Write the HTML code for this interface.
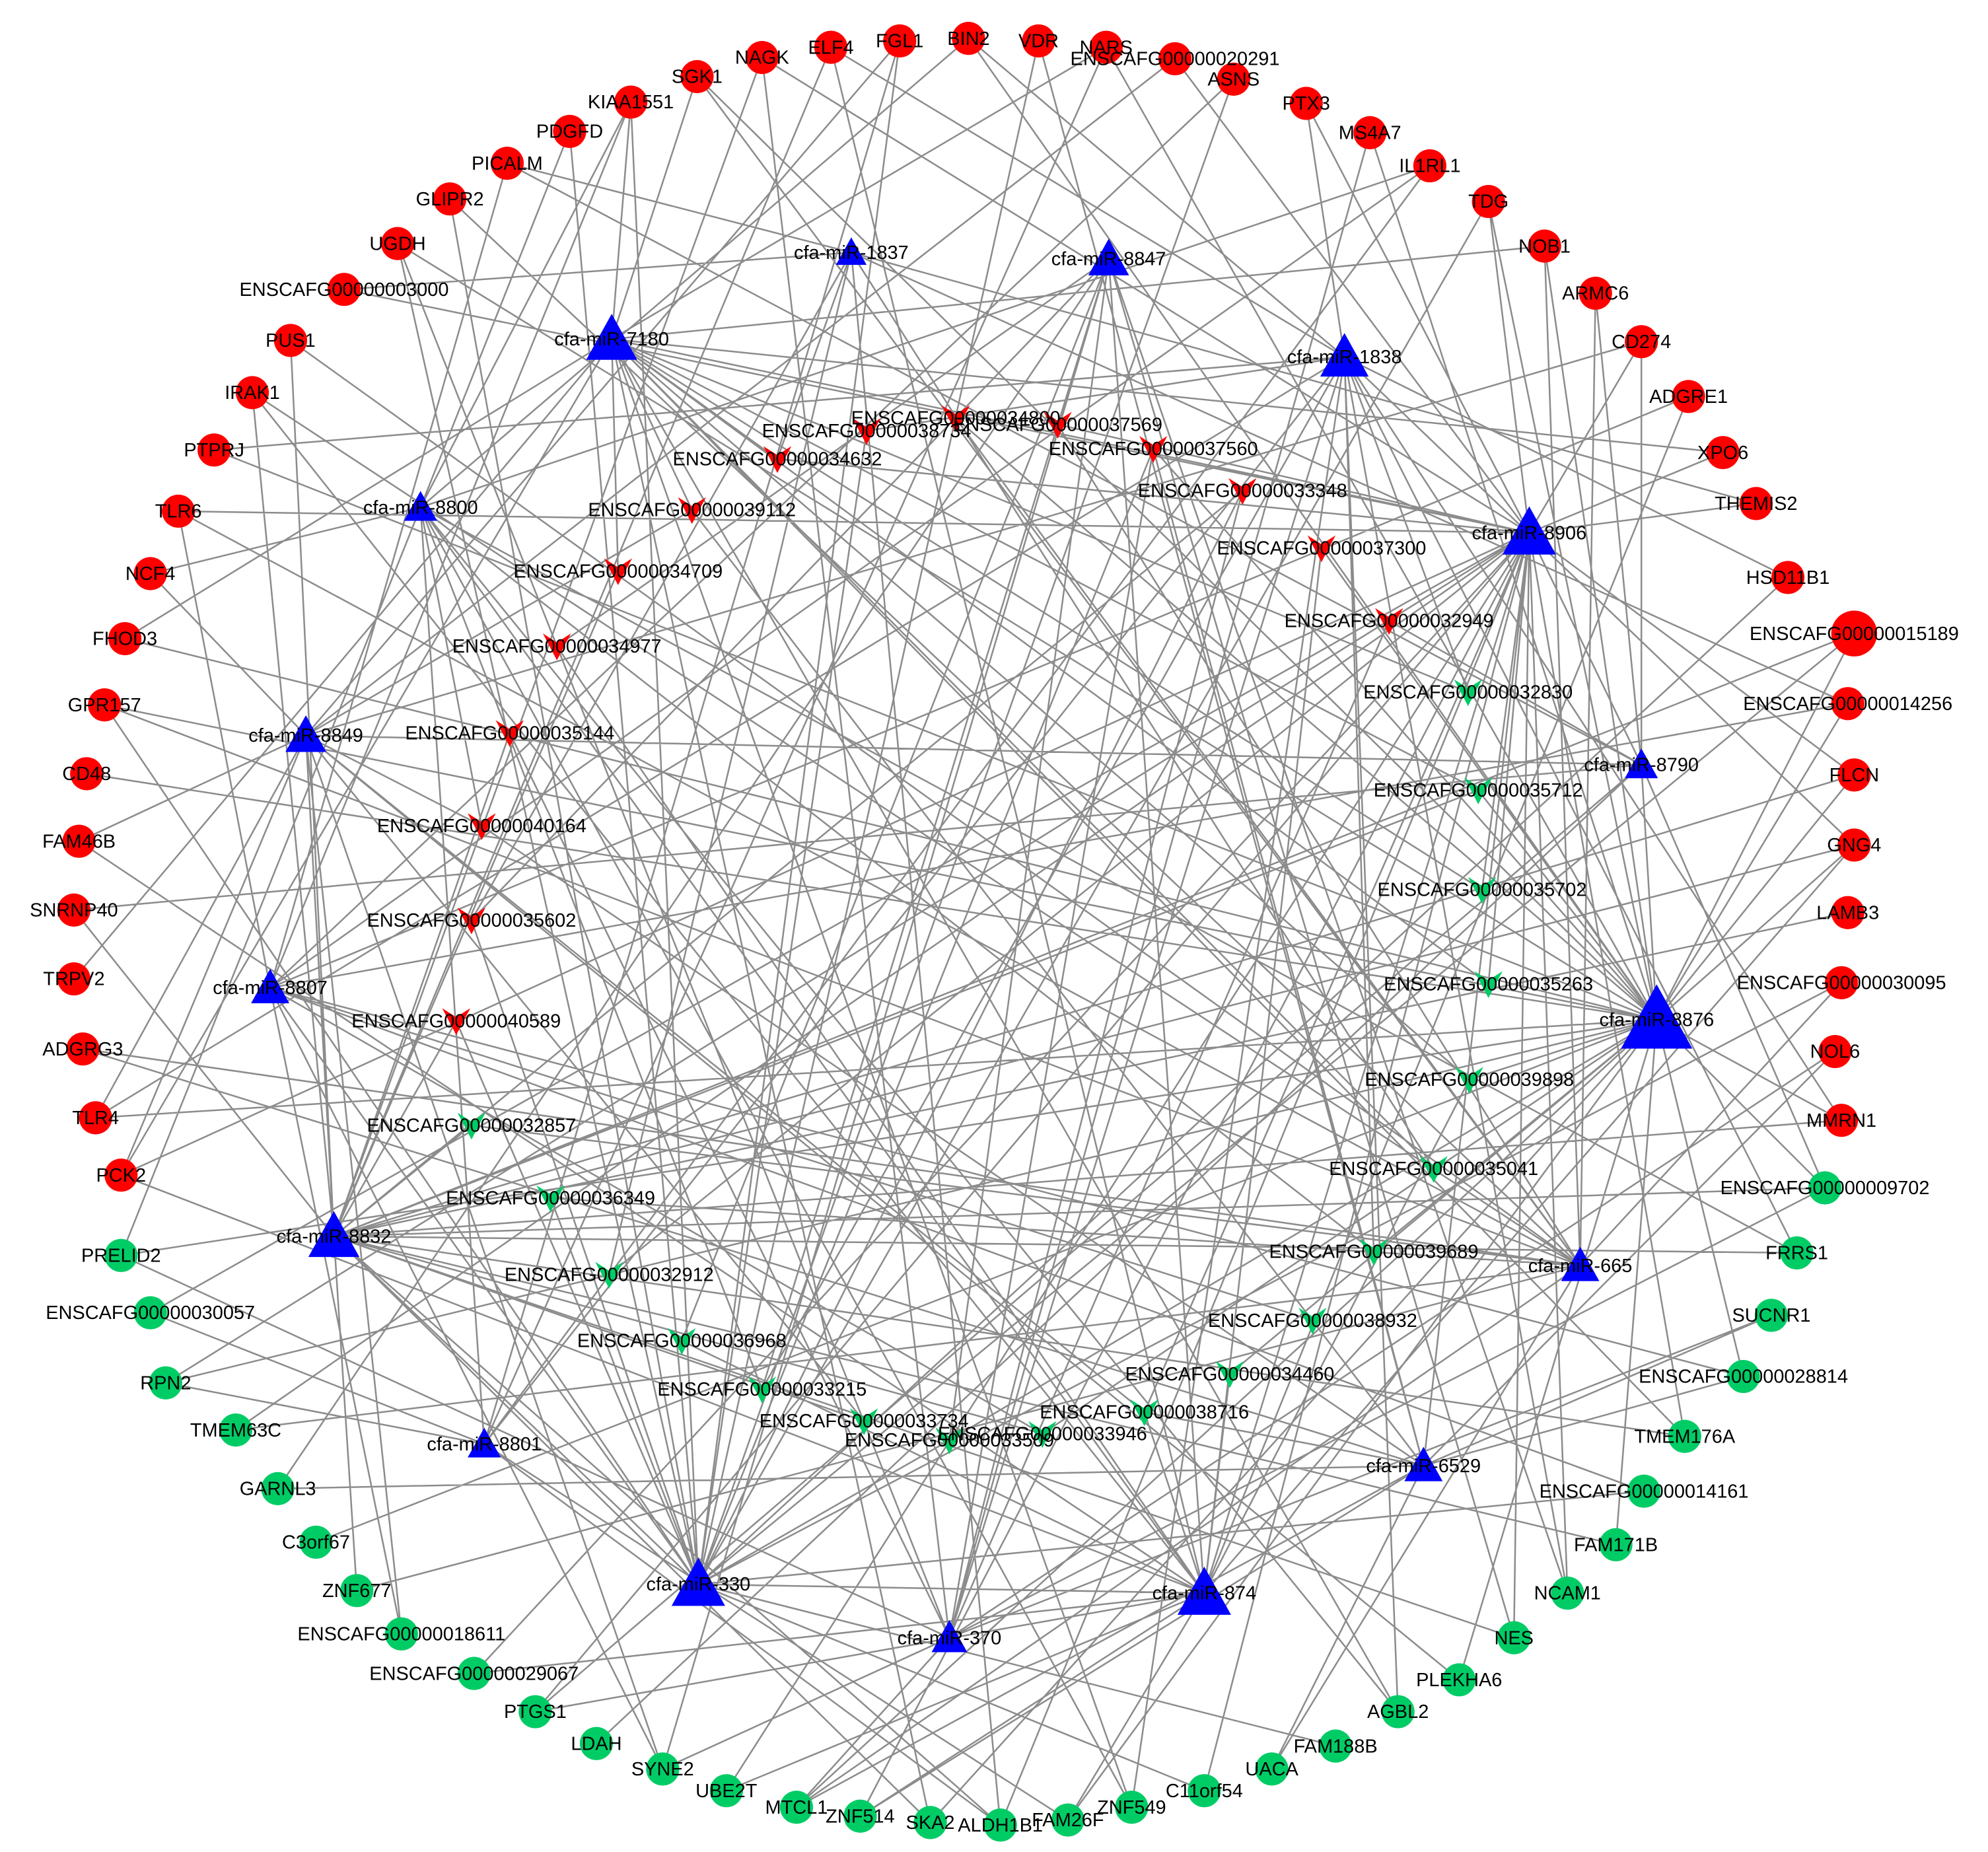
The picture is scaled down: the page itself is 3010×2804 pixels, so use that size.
<!DOCTYPE html>
<html><head><meta charset="utf-8">
<style>
html,body{margin:0;padding:0;background:#fff;}
svg{display:block;}
text{font-family:"Liberation Sans",Arial,sans-serif;font-size:15px;fill:#000;text-anchor:middle;}
</style></head>
<body>
<svg id="s" width="3010" height="2804" viewBox="0 0 1560 1453" xmlns="http://www.w3.org/2000/svg">
<rect width="1560" height="1453" fill="#fff"/>
<g id="edges" stroke="#8c8c8c" stroke-width="1.3" fill="none"></g>
<g id="shapes"></g>
<g id="labels">
<!-- red circles -->
<text class="rc" x="598" y="45">NAGK</text>
<text class="rc" x="652" y="37">ELF4</text>
<text class="rc" x="706" y="32">FGL1</text>
<text class="rc" x="760" y="30">BIN2</text>
<text class="rc" x="815" y="32">VDR</text>
<text class="rc" x="868" y="37">NARS</text>
<text class="rc" x="922" y="46">ENSCAFG00000020291</text>
<text class="rc" x="968" y="62">ASNS</text>
<text class="rc" x="1025" y="81">PTX3</text>
<text class="rc" x="1075" y="104">MS4A7</text>
<text class="rc" x="1122" y="130">IL1RL1</text>
<text class="rc" x="1168" y="158">TDG</text>
<text class="rc" x="1212" y="193">NOB1</text>
<text class="rc" x="1252" y="230">ARMC6</text>
<text class="rc" x="1288" y="268">CD274</text>
<text class="rc" x="1325" y="311">ADGRE1</text>
<text class="rc" x="1352" y="355">XPO6</text>
<text class="rc" x="1378" y="395">THEMIS2</text>
<text class="rc" x="1403" y="453">HSD11B1</text>
<text class="rcb" x="1455" y="497">ENSCAFG00000015189</text>
<text class="rc" x="1450" y="552">ENSCAFG00000014256</text>
<text class="rc" x="1455" y="608">FLCN</text>
<text class="rc" x="1455" y="663">GNG4</text>
<text class="rc" x="1450" y="716">LAMB3</text>
<text class="rc" x="1445" y="771">ENSCAFG00000030095</text>
<text class="rc" x="1440" y="825">NOL6</text>
<text class="rc" x="1445" y="879">MMRN1</text>
<text class="rc" x="547" y="60">SGK1</text>
<text class="rc" x="495" y="80">KIAA1551</text>
<text class="rc" x="447" y="103">PDGFD</text>
<text class="rc" x="398" y="128">PICALM</text>
<text class="rc" x="353" y="156">GLIPR2</text>
<text class="rc" x="312" y="191">UGDH</text>
<text class="rc" x="270" y="227">ENSCAFG00000003000</text>
<text class="rc" x="228" y="267">PUS1</text>
<text class="rc" x="198" y="308">IRAK1</text>
<text class="rc" x="168" y="353">PTPRJ</text>
<text class="rc" x="140" y="401">TLR6</text>
<text class="rc" x="118" y="450">NCF4</text>
<text class="rc" x="98" y="501">FHOD3</text>
<text class="rc" x="82" y="553">GPR157</text>
<text class="rc" x="68" y="607">CD48</text>
<text class="rc" x="62" y="660">FAM46B</text>
<text class="rc" x="58" y="714">SNRNP40</text>
<text class="rc" x="58" y="768">TRPV2</text>
<text class="rc" x="65" y="823">ADGRG3</text>
<text class="rc" x="75" y="877">TLR4</text>
<text class="rc" x="95" y="922">PCK2</text>
<!-- green circles -->
<text class="gc" x="95" y="985">PRELID2</text>
<text class="gc" x="118" y="1030">ENSCAFG00000030057</text>
<text class="gc" x="130" y="1085">RPN2</text>
<text class="gc" x="185" y="1122">TMEM63C</text>
<text class="gc" x="218" y="1168">GARNL3</text>
<text class="gc" x="248" y="1210">C3orf67</text>
<text class="gc" x="280" y="1248">ZNF677</text>
<text class="gc" x="315" y="1282">ENSCAFG00000018611</text>
<text class="gc" x="372" y="1313">ENSCAFG00000029067</text>
<text class="gc" x="420" y="1343">PTGS1</text>
<text class="gc" x="468" y="1368">LDAH</text>
<text class="gc" x="520" y="1388">SYNE2</text>
<text class="gc" x="570" y="1405">UBE2T</text>
<text class="gc" x="625" y="1418">MTCL1</text>
<text class="gc" x="675" y="1425">ZNF514</text>
<text class="gc" x="730" y="1430">SKA2</text>
<text class="gc" x="785" y="1432">ALDH1B1</text>
<text class="gc" x="838" y="1428">FAM26F</text>
<text class="gc" x="888" y="1418">ZNF549</text>
<text class="gc" x="945" y="1405">C11orf54</text>
<text class="gc" x="998" y="1388">UACA</text>
<text class="gc" x="1048" y="1370">FAM188B</text>
<text class="gc" x="1097" y="1343">AGBL2</text>
<text class="gc" x="1145" y="1318">PLEKHA6</text>
<text class="gc" x="1188" y="1285">NES</text>
<text class="gc" x="1230" y="1250">NCAM1</text>
<text class="gc" x="1268" y="1212">FAM171B</text>
<text class="gc" x="1290" y="1170">ENSCAFG00000014161</text>
<text class="gc" x="1322" y="1127">TMEM176A</text>
<text class="gc" x="1368" y="1080">ENSCAFG00000028814</text>
<text class="gc" x="1390" y="1032">SUCNR1</text>
<text class="gc" x="1410" y="983">FRRS1</text>
<text class="gc" x="1432" y="932">ENSCAFG00000009702</text>
<!-- red V -->
<text class="rv" x="750" y="328">ENSCAFG00000034800</text>
<text class="rv" x="830" y="333">ENSCAFG00000037569</text>
<text class="rv" x="680" y="338">ENSCAFG00000038734</text>
<text class="rv" x="610" y="360">ENSCAFG00000034632</text>
<text class="rv" x="905" y="352">ENSCAFG00000037560</text>
<text class="rv" x="975" y="385">ENSCAFG00000033348</text>
<text class="rv" x="543" y="400">ENSCAFG00000039112</text>
<text class="rv" x="1037" y="430">ENSCAFG00000037300</text>
<text class="rv" x="485" y="448">ENSCAFG00000034709</text>
<text class="rv" x="1090" y="487">ENSCAFG00000032949</text>
<text class="rv" x="437" y="507">ENSCAFG00000034977</text>
<text class="rv" x="400" y="575">ENSCAFG00000035144</text>
<text class="rv" x="378" y="648">ENSCAFG00000040164</text>
<text class="rv" x="370" y="722">ENSCAFG00000035602</text>
<text class="rv" x="358" y="801">ENSCAFG00000040589</text>
<!-- green V -->
<text class="gv" x="1152" y="543">ENSCAFG00000032830</text>
<text class="gv" x="1160" y="620">ENSCAFG00000035712</text>
<text class="gv" x="1163" y="698">ENSCAFG00000035702</text>
<text class="gv" x="1168" y="772">ENSCAFG00000035263</text>
<text class="gv" x="1153" y="847">ENSCAFG00000039898</text>
<text class="gv" x="370" y="883">ENSCAFG00000032857</text>
<text class="gv" x="1125" y="917">ENSCAFG00000035041</text>
<text class="gv" x="432" y="940">ENSCAFG00000036349</text>
<text class="gv" x="1078" y="982">ENSCAFG00000039689</text>
<text class="gv" x="478" y="1000">ENSCAFG00000032912</text>
<text class="gv" x="1030" y="1036">ENSCAFG00000038932</text>
<text class="gv" x="535" y="1052">ENSCAFG00000036968</text>
<text class="gv" x="965" y="1078">ENSCAFG00000034460</text>
<text class="gv" x="598" y="1090">ENSCAFG00000033215</text>
<text class="gv" x="898" y="1108">ENSCAFG00000038716</text>
<text class="gv" x="678" y="1115">ENSCAFG00000033734</text>
<text class="gv" x="818" y="1125">ENSCAFG00000033946</text>
<text class="gv" x="745" y="1130">ENSCAFG00000033509</text>
<!-- miRNAs -->
<text class="m" data-s="24" x="668" y="198">cfa-miR-1837</text>
<text class="m" data-s="32" x="870" y="203">cfa-miR-8847</text>
<text class="m" data-s="40" x="480" y="266">cfa-miR-7180</text>
<text class="m" data-s="38" x="1055" y="280">cfa-miR-1838</text>
<text class="m" data-s="26" x="330" y="398">cfa-miR-8800</text>
<text class="m" data-s="42" x="1200" y="418">cfa-miR-8906</text>
<text class="m" data-s="32" x="240" y="577">cfa-miR-8849</text>
<text class="m" data-s="26" x="1288" y="600">cfa-miR-8790</text>
<text class="m" data-s="30" x="212" y="775">cfa-miR-8807</text>
<text class="m" data-s="56" x="1300" y="800">cfa-miR-8876</text>
<text class="m" data-s="40" x="262" y="970">cfa-miR-8832</text>
<text class="m" data-s="30" x="1240" y="993">cfa-miR-665</text>
<text class="m" data-s="26" x="380" y="1133">cfa-miR-8801</text>
<text class="m" data-s="30" x="1117" y="1150">cfa-miR-6529</text>
<text class="m" data-s="42" x="548" y="1243">cfa-miR-330</text>
<text class="m" data-s="42" x="945" y="1250">cfa-miR-874</text>
<text class="m" data-s="28" x="745" y="1285">cfa-miR-370</text>
</g>
</svg>
<script>
(function(){
var NS="http://www.w3.org/2000/svg";
var labels=document.querySelectorAll('#labels text');
var shapes=document.getElementById('shapes'), edges=document.getElementById('edges');
var mirs=[], tg=[];
labels.forEach(function(t){
  var x=+t.getAttribute('x'), y=+t.getAttribute('y'), c=t.getAttribute('class');
  t.setAttribute('y', y+5);
  var el;
  if(c==='rc'||c==='gc'||c==='rcb'){
    el=document.createElementNS(NS,'circle');
    el.setAttribute('cx',x);el.setAttribute('cy',y);el.setAttribute('r',c==='rcb'?18:13);
    el.setAttribute('fill',c==='gc'?'#00cc66':'#ff0000');
    tg.push([x,y]);
  } else if(c==='rv'||c==='gv'){
    el=document.createElementNS(NS,'path');
    el.setAttribute('d','M'+(x-11)+','+(y-10)+' L'+x+','+(y-3)+' L'+(x+11)+','+(y-10)+' L'+x+','+(y+11)+' Z');
    el.setAttribute('fill',c==='gv'?'#00cc66':'#ff0000');
    tg.push([x,y]);
  } else {
    var s=+t.getAttribute('data-s'), h=s*0.9;
    el=document.createElementNS(NS,'path');
    el.setAttribute('d','M'+x+','+(y-h*0.55)+' L'+(x+s/2)+','+(y+h*0.45)+' L'+(x-s/2)+','+(y+h*0.45)+' Z');
    el.setAttribute('fill','#0000ff');
    mirs.push([x,y,s]);
  }
  shapes.appendChild(el);
});
var seed=12345;function rnd(){seed=(seed*1103515245+12345)&0x7fffffff;return seed/0x7fffffff;}
var w=[];mirs.forEach(function(m){w.push(m[2]*m[2]);});
var tot=w.reduce(function(a,b){return a+b;},0);
function pick(){var r=rnd()*tot;for(var i=0;i<w.length;i++){r-=w[i];if(r<=0)return i;}return w.length-1;}
var d='';
tg.forEach(function(p){
  var n=2+Math.floor(rnd()*2.2);var used={};
  for(var k=0;k<n;k++){var i=pick();if(used[i])continue;used[i]=1;
    d+='M'+p[0]+','+p[1]+'L'+mirs[i][0]+','+mirs[i][1];}
});
for(var a=0;a<mirs.length;a++)for(var b=a+1;b<mirs.length;b++){if(rnd()<0.12)d+='M'+mirs[a][0]+','+mirs[a][1]+'L'+mirs[b][0]+','+mirs[b][1];}
var p=document.createElementNS(NS,'path');p.setAttribute('d',d);edges.appendChild(p);
})();
</script>
</body></html>
